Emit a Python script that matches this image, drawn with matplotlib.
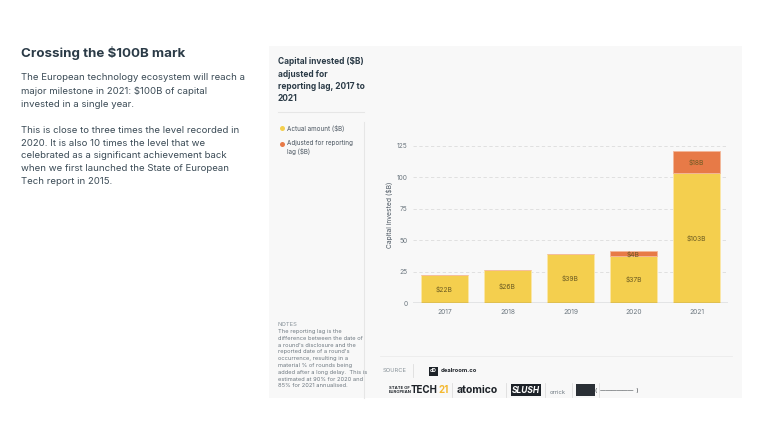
import matplotlib
matplotlib.use("Agg")
import matplotlib.pyplot as plt
from matplotlib.patches import Rectangle
from matplotlib.lines import Line2D

years = ["2017", "2018", "2019", "2020", "2021"]
actual = [22, 26, 39, 37, 103]
adjusted = [0, 0, 0, 4, 18]
actual_labels = ["$22B", "$26B", "$39B", "$37B", "$103B"]
adjusted_labels = ["", "", "", "$4B", "$18B"]
yticks = [0, 25, 50, 75, 100, 125]

W, H = 758, 440
plt.rcParams['font.family'] = ['Inter', 'DejaVu Sans']
fig = plt.figure(figsize=(W / 100, H / 100), dpi=100)
fig.patch.set_facecolor("white")

def fx(x):
    return x / W

def fy(y):
    return 1 - y / H

TXT = "#2b3b47"
YEL = "#F4CF4E"
ORA = "#E77A47"

# panel background
fig.patches.append(Rectangle((fx(269), fy(398)), fx(742) - fx(269), fy(46) - fy(398),
                             transform=fig.transFigure, facecolor="#F8F8F8", edgecolor="none", zorder=-5))

# left text
fig.text(fx(21), fy(53), "Crossing the $100B mark", fontsize=9.6, fontweight="bold",
         color=TXT, va="center", ha="left")
body = ("The European technology ecosystem will reach a\n"
        "major milestone in 2021: $100B of capital\n"
        "invested in a single year.\n\n"
        "This is close to three times the level recorded in\n"
        "2020. It is also 10 times the level that we\n"
        "celebrated as a significant achievement back\n"
        "when we first launched the State of European\n"
        "Tech report in 2015.")
fig.text(fx(21), fy(73.5), body, fontsize=6.9, color="#3a4a55", va="top", ha="left", linespacing=1.55)

# panel title
fig.text(fx(278), fy(57.5), "Capital invested ($B)\nadjusted for\nreporting lag, 2017 to\n2021",
         fontsize=6.0, fontweight="bold", color=TXT, va="top", ha="left", linespacing=1.45)
fig.lines.append(Line2D([fx(278), fx(364)], [fy(112), fy(112)], transform=fig.transFigure,
                        color="#e6e6e6", lw=0.8))
fig.lines.append(Line2D([fx(364), fx(364)], [fy(122), fy(398)], transform=fig.transFigure,
                        color="#e6e6e6", lw=0.8))

# legend
for (cy, col, lab) in [(128, YEL, "Actual amount ($B)"), (144, ORA, "Adjusted for reporting\nlag ($B)")]:
    fig.lines.append(Line2D([fx(281.5)], [fy(cy)], transform=fig.transFigure, marker="o",
                            markersize=3.6, markerfacecolor=col, markeredgecolor="none", linestyle="none"))
    fig.text(fx(287), fy(cy - 3.5), lab, fontsize=4.5, color="#4a5560", va="top", ha="left",
             linespacing=1.3)

# notes
fig.text(fx(278), fy(322), "NOTES", fontsize=4.2, color="#8a949b", va="top", ha="left")
notes = ("The reporting lag is the\n"
         "difference between the date of\n"
         "a round's disclosure and the\n"
         "reported date of a round's\n"
         "occurrence, resulting in a\n"
         "material % of rounds being\n"
         "added after a long delay.  This is\n"
         "estimated at 90% for 2020 and\n"
         "85% for 2021 annualised.")
fig.text(fx(278), fy(329), notes, fontsize=4.1, color="#6d7880", va="top", ha="left", linespacing=1.45)

# chart
ax = fig.add_axes([fx(413), fy(303), fx(728) - fx(413), fy(145.7) - fy(303)])
ax.set_facecolor("none")
x = list(range(len(years)))
ax.bar(x, actual, width=0.74, color=YEL, edgecolor="#fbe7a8", linewidth=0.6, zorder=3)
ax.bar(x, adjusted, bottom=actual, width=0.74, color=ORA, edgecolor="#f3b79a", linewidth=0.6, zorder=3)
ax.set_xlim(-0.5, 4.5)
ax.set_ylim(0, 125)
ax.set_yticks(yticks)
ax.set_xticks(x)
ax.set_xticklabels(years)
for yv in yticks[1:]:
    ax.axhline(yv, color="#dcdcdc", lw=0.6, ls=(0, (4, 3)), zorder=1)
ax.axhline(0, color="#555d63", lw=0.9, zorder=4)
for s in ax.spines.values():
    s.set_visible(False)
ax.tick_params(axis="both", length=0, labelsize=4.8, colors="#6d7880", pad=4)
ax.set_ylabel("Capital invested ($B)", fontsize=4.8, color="#4a5560")
ax.yaxis.set_label_coords(-0.063, 0.56)

LBL = "#6a5a22"
for i in x:
    ax.text(i, actual[i] / 2, actual_labels[i], ha="center", va="center", fontsize=4.8, color=LBL, zorder=5)
    if adjusted[i]:
        ax.text(i, actual[i] + adjusted[i] / 2, adjusted_labels[i], ha="center", va="center",
                fontsize=4.8, color=LBL, zorder=5)

# footer
fig.lines.append(Line2D([fx(380), fx(732)], [fy(356), fy(356)], transform=fig.transFigure,
                        color="#ececec", lw=0.6))
fig.text(fx(383), fy(370.5), "SOURCE", fontsize=4.2, color="#8a949b", va="center", ha="left")
fig.lines.append(Line2D([fx(413), fx(413)], [fy(364), fy(377)], transform=fig.transFigure,
                        color="#dddddd", lw=0.6))
fig.patches.append(Rectangle((fx(429), fy(375.5)), 9 / W, 9 / H, transform=fig.transFigure,
                             facecolor="#1d2228", edgecolor="none"))
fig.text(fx(433.5), fy(371), "dD", fontsize=3.6, color="white", fontweight="bold", va="center", ha="center")
fig.text(fx(441), fy(370.5), "dealroom.co", fontsize=4.2, color="#1d2228", fontweight="bold",
         va="center", ha="left")

fig.text(fx(389), fy(390), "STATE OF\nEUROPEAN", fontsize=3.0, color="#1d2228", fontweight="bold",
         va="center", ha="left", linespacing=1.0)
fig.text(fx(411), fy(390), "TECH", fontsize=7.0, color="#1d2228", fontweight="bold", va="center", ha="left")
fig.text(fx(438), fy(390), "21", fontsize=7.0, color="#F4B930", fontweight="bold", va="center", ha="left")
fig.lines.append(Line2D([fx(452), fx(452)], [fy(383), fy(397)], transform=fig.transFigure, color="#dddddd", lw=0.6))
fig.text(fx(457), fy(390), "atomico", fontsize=7.5, color="#1d2228", fontweight="bold", va="center", ha="left")
fig.lines.append(Line2D([fx(506), fx(506)], [fy(383), fy(397)], transform=fig.transFigure, color="#dddddd", lw=0.6))
fig.patches.append(Rectangle((fx(511), fy(396)), 30 / W, 12 / H, transform=fig.transFigure,
                             facecolor="#1d2228", edgecolor="none"))
fig.text(fx(526), fy(390), "SLUSH", fontsize=6, color="white", fontweight="bold", fontstyle="italic",
         va="center", ha="center")
fig.lines.append(Line2D([fx(545), fx(545)], [fy(383), fy(397)], transform=fig.transFigure, color="#dddddd", lw=0.6))
fig.text(fx(550), fy(392), "orrick", fontsize=4.2, color="#6d7880", va="center", ha="left")
fig.lines.append(Line2D([fx(572), fx(572)], [fy(383), fy(397)], transform=fig.transFigure, color="#dddddd", lw=0.6))
fig.patches.append(Rectangle((fx(576), fy(396)), 19 / W, 12 / H, transform=fig.transFigure,
                             facecolor="#2a2f35", edgecolor="none"))
fig.lines.append(Line2D([fx(599), fx(599)], [fy(383), fy(397)], transform=fig.transFigure, color="#dddddd", lw=0.6))
fig.text(fx(617), fy(390), "(  ——————  )", fontsize=4, color="#1d2228", va="center", ha="center")

fig.savefig("out.png", dpi=100, facecolor="white")
